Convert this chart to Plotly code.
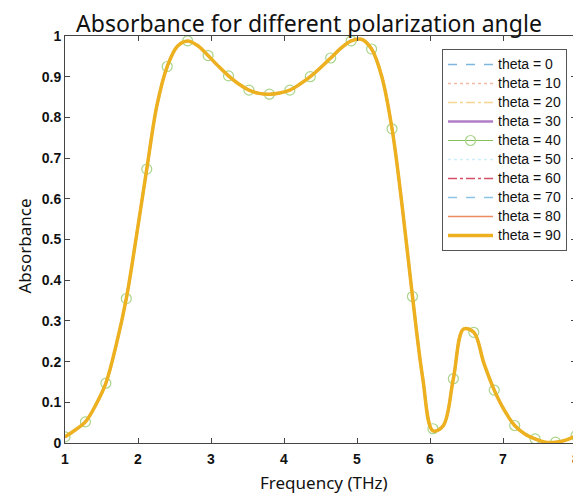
import plotly.graph_objects as go

frequency = [1.00, 1.14, 1.28, 1.42, 1.56, 1.70, 1.84, 1.98, 2.12, 2.26,
             2.40, 2.54, 2.68, 2.82, 2.96, 3.10, 3.24, 3.38, 3.52, 3.66,
             3.80, 3.94, 4.08, 4.22, 4.36, 4.50, 4.64, 4.78, 4.92, 5.06,
             5.20, 5.34, 5.48, 5.62, 5.76, 5.90, 6.04, 6.18, 6.32, 6.46,
             6.60, 6.74, 6.88, 7.02, 7.16, 7.30, 7.44, 7.58, 7.72, 7.86, 8.00]
absorbance = [0.015, 0.032, 0.052, 0.093, 0.147, 0.240, 0.355, 0.510, 0.673, 0.830,
              0.925, 0.975, 0.988, 0.976, 0.952, 0.926, 0.902, 0.882, 0.867, 0.859,
              0.857, 0.860, 0.867, 0.882, 0.900, 0.922, 0.946, 0.970, 0.988, 0.992,
              0.968, 0.900, 0.772, 0.580, 0.360, 0.160, 0.030, 0.042, 0.158, 0.280,
              0.272, 0.195, 0.130, 0.080, 0.043, 0.022, 0.010, 0.002, 0.002, 0.007, 0.018]

# marker positions of the theta = 40 curve (every 0.28 THz)
marker_freq = [1.00, 1.28, 1.56, 1.84, 2.12, 2.40, 2.68, 2.96, 3.24, 3.52, 3.80, 4.08, 4.36,
               4.64, 4.92, 5.20, 5.48, 5.76, 6.04, 6.32, 6.60, 6.88, 7.16, 7.44, 7.72, 8.00]
marker_abs = [0.015, 0.052, 0.147, 0.355, 0.673, 0.925, 0.988, 0.952, 0.902, 0.867, 0.857, 0.867, 0.900,
              0.946, 0.988, 0.968, 0.772, 0.360, 0.035, 0.158, 0.272, 0.130, 0.043, 0.010, 0.002, 0.018]

theta_labels = ["theta = 0", "theta = 10", "theta = 20", "theta = 30", "theta = 40",
                "theta = 50", "theta = 60", "theta = 70", "theta = 80", "theta = 90"]
colors = ["#7fb6df", "#f5b9a6", "#f6d592", "#b07cc6", "#86bf5a",
          "#cdeefa", "#d45068", "#8cc3e8", "#ef8a62", "#edb120"]
dashes = ["dash", "dot", "dashdot", "solid", "solid",
          "dot", "dashdot", "dash", "solid", "solid"]
widths = [1.3, 1.3, 1.3, 2.5, 1.0, 1.3, 1.3, 1.3, 1.5, 3.5]

# the page adds an 8 px body margin; the figure is sized to compensate
OFF = 8
W, H = 581 - OFF, 498 - OFF
ML, MT, MR, MB = 65 - OFF, 36 - OFF, 5, 55
PW, PH = W - ML - MR, H - MT - MB


def legend_name(s):
    return "<span style='font-size:14px'>" + s + "</span>"


fig = go.Figure()
for i, name in enumerate(theta_labels):
    if name == "theta = 40":
        fig.add_trace(go.Scatter(
            x=frequency, y=absorbance, name=name, mode="lines", showlegend=False,
            legendgroup=name, line=dict(color=colors[i], width=widths[i], shape="spline"),
        ))
        fig.add_trace(go.Scatter(
            x=marker_freq, y=marker_abs, name=name, mode="markers", showlegend=False,
            legendgroup=name,
            marker=dict(symbol="circle-open", size=10, color="#a9d48a", line=dict(width=1.2)),
        ))
        fig.add_trace(go.Scatter(
            x=[None], y=[None], name=legend_name(name), mode="lines+markers", legendgroup=name,
            line=dict(color=colors[i], width=widths[i]),
            marker=dict(symbol="circle-open", size=10, color="#a9d48a", line=dict(width=1.2)),
        ))
    else:
        fig.add_trace(go.Scatter(
            x=frequency, y=absorbance, name=legend_name(name), mode="lines",
            line=dict(color=colors[i], width=widths[i], dash=dashes[i], shape="spline"),
        ))

tickfont = dict(family="Liberation Sans", size=14, color="#111", weight="bold")
axis_title_font = dict(family="Noto Sans", size=17, color="#111")
fig.update_layout(
    width=W, height=H,
    margin=dict(l=ML, r=MR, t=MT, b=MB, autoexpand=False),
    paper_bgcolor="white", plot_bgcolor="white",
    title=dict(text="Absorbance for different polarization angle",
               font=dict(family="Noto Sans", size=23, color="#111"),
               x=(309 - OFF) / W, xanchor="center", y=1 - 15.5 / H, yanchor="middle"),
    xaxis=dict(range=[1, 8], tickvals=[1, 2, 3, 4, 5, 6, 7, 8], ticks="inside", ticklen=5,
               showline=True, linecolor="#444", linewidth=1, mirror="ticks", tickcolor="#444",
               showgrid=False, zeroline=False, tickfont=tickfont, ticklabelstandoff=3,
               automargin=False),
    yaxis=dict(range=[0, 1], tickvals=[0, 0.1, 0.2, 0.3, 0.4, 0.5, 0.6, 0.7, 0.8, 0.9, 1],
               ticktext=["0", "0.1", "0.2", "0.3", "0.4", "0.5", "0.6", "0.7", "0.8", "0.9", "1"],
               ticks="inside", ticklen=5,
               showline=True, linecolor="#444", linewidth=1, mirror="ticks", tickcolor="#444",
               showgrid=False, zeroline=False, tickfont=tickfont, automargin=False),
    annotations=[
        dict(text="Frequency (THz)", xref="paper", yref="paper",
             x=(324 - OFF - ML) / PW, y=-(483 - OFF - (MT + PH)) / PH,
             xanchor="center", yanchor="middle", showarrow=False, font=axis_title_font),
        dict(text="Absorbance", xref="paper", yref="paper", textangle=-90,
             x=(23.5 - OFF - ML) / PW, y=1 - (246 - OFF - MT) / PH,
             xanchor="center", yanchor="middle", showarrow=False, font=axis_title_font),
    ],
    legend=dict(x=(567 - OFF - ML) / PW, y=1 - (49 - OFF - MT) / PH, xanchor="right", yanchor="top",
                bordercolor="#555", borderwidth=1, bgcolor="white",
                font=dict(family="Liberation Sans", size=12, color="#111"),
                tracegroupgap=0, itemwidth=45),
    showlegend=True,
)

fig.write_html("out.html")
